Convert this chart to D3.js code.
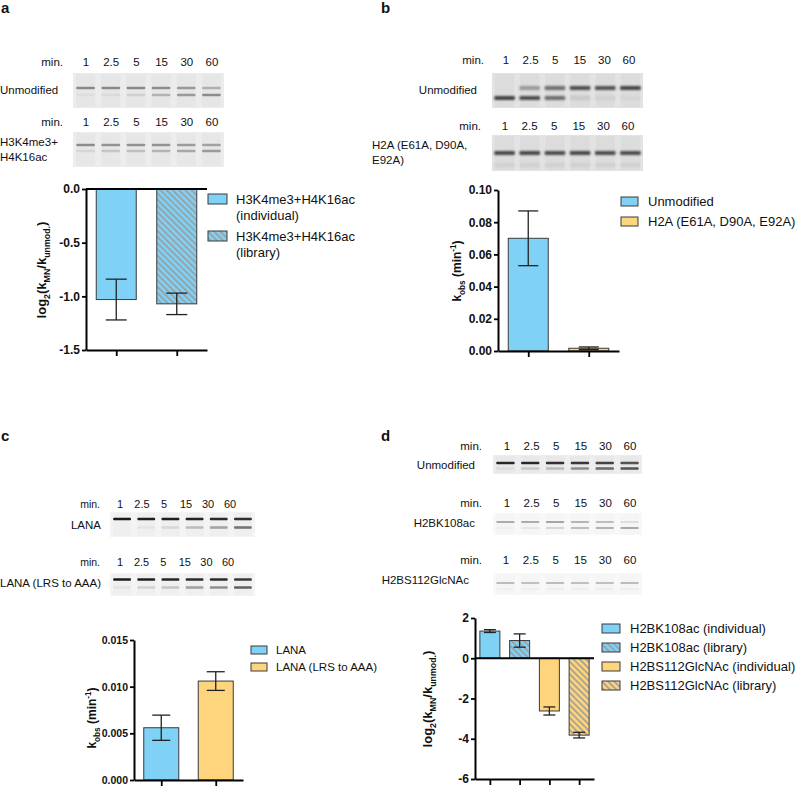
<!DOCTYPE html>
<html><head><meta charset="utf-8">
<script src="https://cdn.jsdelivr.net/npm/d3@7"></script>
<style>
body{margin:0;background:#fff}
svg{display:block}
text{font-family:"Liberation Sans",Arial,Helvetica,sans-serif;fill:#111}
</style>
</head><body>
<svg id="fig" width="800" height="786"></svg>
<script>
// ---------- data ----------
const lanes = ["1","2.5","5","15","30","60"];

// gel band intensities per lane (upper band, lower band)
const gelA1Upper = [0.75,0.75,0.75,0.72,0.62,0.45];
const gelA1Lower = [0.06,0.10,0.18,0.40,0.62,0.72];
const gelA2Upper = [0.72,0.68,0.68,0.66,0.60,0.55];
const gelA2Lower = [0.15,0.28,0.32,0.40,0.50,0.62];
const gelB1Upper = [0.00,0.40,0.65,0.85,0.82,0.90];
const gelB1Lower = [0.92,0.85,0.65,0.12,0.08,0.05];
const gelB2Upper = [0.88,0.88,0.85,0.88,0.85,0.85];
const gelB2Lower = [0.08,0.08,0.08,0.08,0.06,0.06];
const gelC1Upper = [0.95,0.92,0.92,0.90,0.88,0.85];
const gelC1Lower = [0.00,0.05,0.10,0.22,0.35,0.55];
const gelC2Upper = [0.95,0.92,0.90,0.88,0.88,0.82];
const gelC2Lower = [0.05,0.12,0.18,0.35,0.45,0.65];
const gelD1Upper = [0.92,0.92,0.88,0.85,0.80,0.72];
const gelD1Lower = [0.05,0.15,0.20,0.45,0.62,0.72];
const gelD2Upper = [0.45,0.45,0.50,0.40,0.35,0.15];
const gelD2Lower = [0.04,0.10,0.20,0.35,0.42,0.48];
const gelD3Upper = [0.40,0.38,0.40,0.38,0.38,0.40];
const gelD3Lower = [0.04,0.04,0.05,0.05,0.05,0.05];

// bar chart data
const aCats = ["H3K4me3+H4K16ac (individual)","H3K4me3+H4K16ac (library)"];
const aVals = [-1.03,-1.07];
const aErr  = [0.19,0.10];
const aTicks = [0,-0.5,-1.0,-1.5];

const bCats = ["Unmodified","H2A (E61A, D90A, E92A)"];
const bVals = [0.070,0.0017];
const bErr  = [0.017,0.0008];
const bTicks = [0,0.02,0.04,0.06,0.08,0.10];

const cCats = ["LANA","LANA (LRS to AAA)"];
const cVals = [0.0056,0.0106];
const cErr  = [0.00135,0.0010];
const cTicks = [0,0.005,0.010,0.015];

const dCats = ["H2BK108ac (individual)","H2BK108ac (library)","H2BS112GlcNAc (individual)","H2BS112GlcNAc (library)"];
const dVals = [1.35,0.88,-2.62,-3.82];
const dErr  = [0.07,0.33,0.20,0.14];
const dTicks = [2,0,-2,-4,-6];

// ---------- styles ----------
const BLUE = "#7fd2f6", ORANGE = "#fed57c", STROKE = "#3b3b3b";
const svg = d3.select("#fig");
const defs = svg.append("defs");
defs.append("filter").attr("id","blur").attr("x","-20%").attr("y","-100%").attr("width","140%").attr("height","300%")
  .append("feGaussianBlur").attr("stdDeviation","0.7 0.6");
defs.append("filter").attr("id","blur2").attr("x","-20%").attr("y","-100%").attr("width","140%").attr("height","300%")
  .append("feGaussianBlur").attr("stdDeviation","1.2 1.1");
function hatch(id, base){
  const p = defs.append("pattern").attr("id",id).attr("patternUnits","userSpaceOnUse")
    .attr("width",4.4).attr("height",10).attr("patternTransform","rotate(-45)");
  p.append("rect").attr("width",4.4).attr("height",10).attr("fill",base);
  p.append("rect").attr("width",1.9).attr("height",10).attr("fill","#9b9b9b").attr("opacity",0.85);
}
hatch("hb", BLUE); hatch("ho", ORANGE);
const fills = {blue:BLUE, blueH:"url(#hb)", orange:ORANGE, orangeH:"url(#ho)"};

const hy = v => String(v).replace("\u2212","-");

// ---------- helpers ----------
function txt(x,y,s,opt={}){
  return svg.append("text").attr("x",x).attr("y",y)
    .attr("font-size",opt.size||11.5).attr("font-weight",opt.bold?"bold":"normal")
    .attr("text-anchor",opt.anchor||"start").text(s);
}
function laneRow(x0,x1,y,size){
  const s = d3.scalePoint().domain(lanes).range([x0,x1]);
  svg.append("g").selectAll("text").data(lanes).join("text")
    .attr("x",d=>s(d)).attr("y",y).attr("text-anchor","middle")
    .attr("font-size",size||11.5).text(d=>d);
}
function gel(o){
  const g = svg.append("g");
  g.append("rect").attr("x",o.x0).attr("y",o.y0).attr("width",o.x1-o.x0).attr("height",o.y1-o.y0).attr("fill",o.bg);
  const s = d3.scaleBand().domain(lanes).range([o.x0,o.x1]);
  g.selectAll("rect.lane").data(lanes).join("rect").attr("class","lane")
    .attr("x",d=>s(d)+s.bandwidth()*0.12).attr("width",s.bandwidth()*0.76)
    .attr("y",o.y0+1).attr("height",o.y1-o.y0-2).attr("fill",o.laneBg||o.bg);
  const bw = s.bandwidth()*(o.bandFrac||0.74);
  [[o.upper,o.yu],[o.lower,o.yl]].forEach(([arr,yy])=>{
    g.append("g").attr("filter",o.blur||"url(#blur)").selectAll("rect").data(lanes).join("rect")
      .attr("x",d=>s(d)+(s.bandwidth()-bw)/2).attr("width",bw)
      .attr("y",yy-o.bh/2).attr("height",o.bh).attr("rx",1)
      .attr("fill",o.color).attr("opacity",(d,i)=>arr[i]);
  });
}
function ytitle(cx,cy,parts,size){
  const t = svg.append("text").attr("transform",`translate(${cx},${cy}) rotate(-90)`)
    .attr("text-anchor","middle").attr("font-weight","bold").attr("font-size",size);
  let shift = 0;
  parts.forEach(p=>{
    const ts = t.append("tspan").text(p.t);
    const target = p.sub?size*0.3:(p.sup?-size*0.38:0);
    ts.attr("dy",target-shift); shift = target;
    if(p.sub||p.sup) ts.attr("font-size",size*0.68);
  });
}
function barChart(o){
  const y = d3.scaleLinear().domain(o.yDomain).range(o.yRange);
  const x = d3.scalePoint().domain(o.cats).range(o.xRange).padding(0.5);
  const g = svg.append("g");
  const y0 = y(0);
  g.selectAll("rect.bar").data(o.cats).join("rect").attr("class","bar")
    .attr("x",d=>x(d)-o.barW/2).attr("width",o.barW)
    .attr("y",(d,i)=>Math.min(y(o.vals[i]),y0))
    .attr("height",(d,i)=>Math.abs(y(o.vals[i])-y0))
    .attr("fill",(d,i)=>fills[o.fills[i]]).attr("stroke",STROKE).attr("stroke-width",1);
  // error bars
  const eg = g.append("g").attr("stroke","#222").attr("stroke-width",1.3);
  o.cats.forEach((c,i)=>{
    const cx = x(c), hi = y(o.vals[i]+o.errs[i]), lo = y(o.vals[i]-o.errs[i]);
    eg.append("line").attr("x1",cx).attr("x2",cx).attr("y1",hi).attr("y2",lo);
    eg.append("line").attr("x1",cx-o.capW/2).attr("x2",cx+o.capW/2).attr("y1",hi).attr("y2",hi);
    eg.append("line").attr("x1",cx-o.capW/2).attr("x2",cx+o.capW/2).attr("y1",lo).attr("y2",lo);
  });
  // axes
  const ya = g.append("g").attr("transform",`translate(${o.xRange[0]},0)`)
    .call(d3.axisLeft(y).tickValues(o.ticks).tickSize(4).tickSizeOuter(0).tickPadding(2).tickFormat(d=>hy(o.fmt(d))));
  const xa = g.append("g").attr("transform",`translate(0,${o.yRange[0]})`)
    .call(d3.axisBottom(x).tickSize(6).tickSizeOuter(0).tickFormat(""));
  [ya,xa].forEach(a=>{
    a.select(".domain").attr("stroke","#000").attr("stroke-width",2);
    a.selectAll(".tick line").attr("stroke","#000").attr("stroke-width",1.8);
    a.selectAll(".tick text").attr("font-family","Liberation Sans, Arial, sans-serif")
      .attr("font-size",o.tickSize).attr("font-weight","bold").attr("fill","#111");
  });
  if(o.zeroLine){
    g.append("line").attr("x1",o.xRange[0]).attr("x2",o.xRange[1]).attr("y1",y0).attr("y2",y0)
      .attr("stroke","#000").attr("stroke-width",2);
  }
  // legend
  const L = o.legend;
  const lg = g.append("g");
  o.cats.forEach((c,i)=>{
    const ty = L.y + i*L.step;
    lg.append("rect").attr("x",L.x).attr("y",ty-L.sh).attr("width",L.sw).attr("height",L.sh)
      .attr("fill",fills[o.fills[i]]).attr("stroke",STROKE).attr("stroke-width",1);
    const lines = L.lines ? L.lines[i] : [c];
    lines.forEach((ln,j)=>{
      lg.append("text").attr("x",L.tx).attr("y",ty+j*L.lh).attr("font-size",L.size).text(ln);
    });
  });
}

// ---------- panel labels ----------
txt(1,13,"a",{bold:true,size:15});
txt(381,13,"b",{bold:true,size:15});
txt(1,441,"c",{bold:true,size:15});
txt(381,441,"d",{bold:true,size:15});

// ---------- panel a gels ----------
txt(63,66,"min.",{anchor:"end"}); laneRow(86,212,66);
gel({x0:73,x1:224,y0:73,y1:108,bg:"#ececec",laneBg:"#e6e6e6",color:"#6a6a6a",bh:2.6,yu:88,yl:95,upper:gelA1Upper,lower:gelA1Lower});
txt(0,94,"Unmodified");
txt(63,126,"min.",{anchor:"end"}); laneRow(86,212,126);
gel({x0:73,x1:224,y0:132,y1:167,bg:"#ededed",laneBg:"#e7e7e7",color:"#6a6a6a",bh:2.6,yu:145,yl:151,upper:gelA2Upper,lower:gelA2Lower});
txt(0,146,"H3K4me3+"); txt(0,161,"H4K16ac");

// ---------- panel b gels ----------
txt(484,64,"min.",{anchor:"end"}); laneRow(506,629,64);
gel({x0:492,x1:643,y0:73,y1:108,bg:"#e3e3e3",laneBg:"#dcdcdc",color:"#333",bh:4,yu:88,yl:98,upper:gelB1Upper,lower:gelB1Lower,blur:"url(#blur2)",bandFrac:0.82});
txt(477,94,"Unmodified",{anchor:"end"});
txt(481,130,"min.",{anchor:"end"}); laneRow(505,628,130);
gel({x0:492,x1:643,y0:135,y1:171,bg:"#e3e3e3",laneBg:"#dcdcdc",color:"#333",bh:4,yu:153,yl:165,upper:gelB2Upper,lower:gelB2Lower,blur:"url(#blur2)",bandFrac:0.82});
txt(372,149,"H2A (E61A, D90A,"); txt(372,164,"E92A)");

// ---------- panel c gels ----------
txt(100,508,"min.",{anchor:"end",size:10.5}); laneRow(120,230,508,11);
gel({x0:110,x1:255,y0:512,y1:537,bg:"#f4f4f4",laneBg:"#efefef",color:"#111",bh:2.4,yu:519,yl:527.5,upper:gelC1Upper,lower:gelC1Lower});
txt(101,529,"LANA",{anchor:"end"});
txt(100,566,"min.",{anchor:"end",size:10.5}); laneRow(120,228,566,11);
gel({x0:110,x1:255,y0:573,y1:596,bg:"#f4f4f4",laneBg:"#efefef",color:"#111",bh:2.4,yu:579.5,yl:587.5,upper:gelC2Upper,lower:gelC2Lower});
txt(101,587,"LANA (LRS to AAA)",{anchor:"end"});

// ---------- panel d gels ----------
txt(482,450,"min.",{anchor:"end"}); laneRow(507,630,450);
gel({x0:493,x1:642,y0:455,y1:474,bg:"#ededed",laneBg:"#e8e8e8",color:"#1a1a1a",bh:2.6,yu:463,yl:468.5,upper:gelD1Upper,lower:gelD1Lower});
txt(475,469,"Unmodified",{anchor:"end"});
txt(482,507,"min.",{anchor:"end"}); laneRow(507,630,507);
gel({x0:493,x1:642,y0:513,y1:535,bg:"#f8f8f8",laneBg:"#f5f5f5",color:"#555",bh:2.2,yu:522,yl:528,upper:gelD2Upper,lower:gelD2Lower});
txt(475,527,"H2BK108ac",{anchor:"end"});
txt(482,564,"min.",{anchor:"end"}); laneRow(506,630,564);
gel({x0:493,x1:642,y0:573,y1:595,bg:"#f8f8f8",laneBg:"#f5f5f5",color:"#666",bh:2.2,yu:583,yl:589,upper:gelD3Upper,lower:gelD3Lower});
txt(469,584,"H2BS112GlcNAc",{anchor:"end"});

// ---------- bar charts ----------
barChart({cats:aCats,vals:aVals,errs:aErr,fills:["blue","blueH"],yDomain:[-1.5,0],yRange:[350,189],
  xRange:[86,207],barW:40,capW:21,ticks:aTicks,fmt:d3.format(".1f"),tickSize:12,zeroLine:true,
  legend:{x:208,tx:236,y:204,step:37,sw:19,sh:10,size:13,lh:15.5,
    lines:[["H3K4me3+H4K16ac","(individual)"],["H3K4me3+H4K16ac","(library)"]]}});
ytitle(46,270,[{t:"log"},{t:"2",sub:true},{t:"(k"},{t:"MN",sub:true},{t:"/k"},{t:"unmod.",sub:true},{t:")"}],13);

barChart({cats:bCats,vals:bVals,errs:bErr,fills:["blue","orange"],yDomain:[0,0.10],yRange:[351,190],
  xRange:[498,619],barW:40,capW:20,ticks:bTicks,fmt:d3.format(".2f"),tickSize:12,
  legend:{x:621,tx:648,y:206,step:20,sw:17,sh:9,size:13,lh:15}});
ytitle(461,271,[{t:"k"},{t:"obs",sub:true},{t:" (min"},{t:"-1",sup:true},{t:")"}],12);

barChart({cats:cCats,vals:cVals,errs:cErr,fills:["blue","orange"],yDomain:[0,0.015],yRange:[780,640],
  xRange:[134,243],barW:35,capW:18,ticks:cTicks,fmt:d3.format(".3f"),tickSize:10.5,
  legend:{x:251,tx:276,y:654,step:17,sw:16,sh:8,size:11.5,lh:14}});
ytitle(96,718,[{t:"k"},{t:"obs",sub:true},{t:" (min"},{t:"-1",sup:true},{t:")"}],12);

barChart({cats:dCats,vals:dVals,errs:dErr,fills:["blue","blueH","orange","orangeH"],yDomain:[-6,2],yRange:[779,618],
  xRange:[475,594],barW:20,capW:12,ticks:dTicks,fmt:d3.format("d"),tickSize:12,zeroLine:true,
  legend:{x:602,tx:630,y:633,step:19,sw:18,sh:9,size:13,lh:15}});
ytitle(432,699,[{t:"log"},{t:"2",sub:true},{t:"(k"},{t:"MN",sub:true},{t:"/k"},{t:"unmod.",sub:true},{t:")"}],13);
</script>
</body></html>
